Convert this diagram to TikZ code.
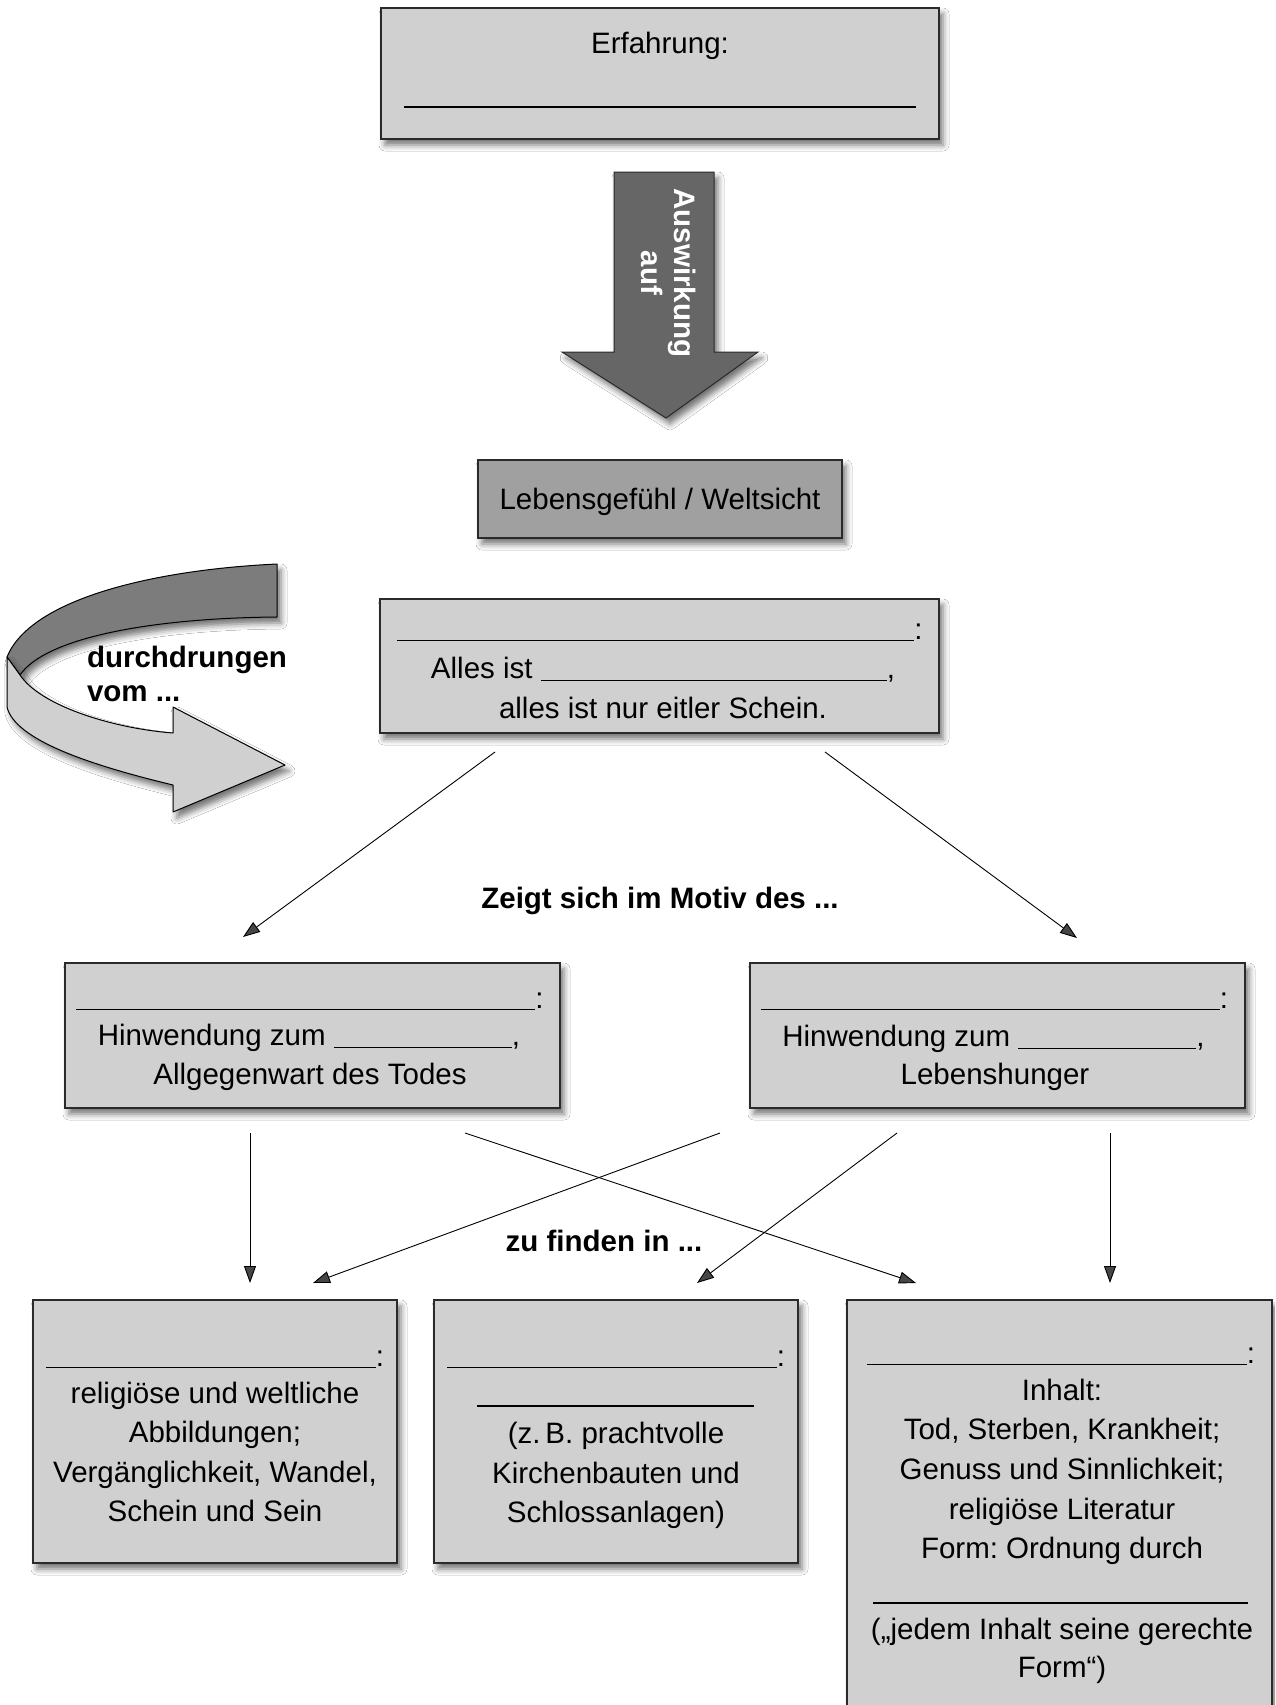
\documentclass[tikz,border=0pt]{standalone}
\usepackage{fontspec}
\setmainfont{Liberation Sans}
\usetikzlibrary{arrows.meta,shadows.blur}
\definecolor{boxgray}{HTML}{D0D0D0}
\definecolor{midgray}{HTML}{A0A0A0}
\definecolor{arrowgray}{HTML}{666666}
\definecolor{ribbondark}{HTML}{7C7C7C}
\definecolor{edgecol}{HTML}{2A2A2A}
\frenchspacing
\begin{document}
\frenchspacing
\begin{tikzpicture}[x=1pt,y=-1pt,
  every node/.style={font=\fontsize{29.5}{40}\selectfont, inner sep=0pt, outer sep=0pt},
  softshadow/.style={blur shadow={shadow xshift=4pt, shadow yshift=-6pt, shadow blur radius=6pt, shadow opacity=55}},
  boxstyle/.style={draw=edgecol, line width=1.3pt, fill=boxgray, softshadow},
  lab/.style={anchor=base},
  boldlab/.style={font=\fontsize{29.5}{34}\selectfont\bfseries},
  conn/.style={line width=0.9pt, -{Triangle[length=17pt,width=12pt]}},
  blank/.style={line width=1.3pt, draw=black}
]
\useasboundingbox (0,0) rectangle (1275,1705);
\fill[white] (0,0) rectangle (1275,1705);
\begin{scope}
\clip (0,0) rectangle (1275,1705);

% ---------- top box ----------
\node[boxstyle, minimum width=558pt, minimum height=131pt] (erf) at (660,73.5) {};
\node[lab] (erft) at (660,53) {Erfahrung:};
\draw[blank] (404,107) -- (916,107);

% ---------- big arrow ----------
\filldraw[fill=arrowgray, draw=edgecol, line width=1pt, softshadow]
  (614,172) -- (714,172) -- (714,352) -- (758,352) -- (666,418) -- (562,352) -- (614,352) -- cycle;
\node[font=\fontsize{29.5}{33}\selectfont\bfseries, text=white, rotate=-90, align=center] (ausw) at (669,273) {Auswirkung\\auf};

% ---------- Lebensgefuehl ----------
\node[boxstyle, fill=midgray, minimum width=364pt, minimum height=78pt] (leb) at (660,499) {};
\node[lab] (lebt) at (660,509) {Lebensgefühl / Weltsicht};

% ---------- curved ribbon arrow ----------
\filldraw[fill=ribbondark, draw=black, line width=1pt, softshadow, line join=round]
  (277,564) .. controls (150,570) and (30,600) .. (7,657)
  -- (20,675) .. controls (45,638) and (150,618) .. (277,617) -- cycle;
\filldraw[fill=boxgray, draw=black, line width=1pt, softshadow, line join=round]
  (7,657) -- (7,707) .. controls (15,740) and (90,765) .. (173,785)
  -- (173,812) -- (285,765) -- (173,707) -- (173,733)
  .. controls (110,728) and (40,705) .. (20,675) -- cycle;
\node[boldlab, anchor=base west] (dd1) at (87,667) {durchdrungen};
\node[boldlab, anchor=base west] (dd2) at (87,701) {vom ...};

% ---------- Vanitas box ----------
\node[boxstyle, minimum width=559pt, minimum height=134pt] (van) at (659.5,666) {};
\node[lab] (v1) at (660,639) {\rule[-2pt]{517pt}{1.3pt}:};
\node[lab] (v2) at (663,678) {Alles ist \rule[-3pt]{346pt}{1.3pt},};
\node[lab] (v3) at (663,718) {alles ist nur eitler Schein.};

% ---------- labels ----------
\node[boldlab, lab] (zeigt) at (660,908) {Zeigt sich im Motiv des ...};
\node[boldlab, lab] (zuf) at (604,1251) {zu finden in ...};

% ---------- middle boxes ----------
\node[boxstyle, minimum width=495pt, minimum height=145pt] (tod) at (312.5,1035.5) {};
\node[lab] (t1) at (310,1008) {\rule[-2pt]{459pt}{1.3pt}:};
\node[lab] (t2) at (309,1045) {Hinwendung zum \rule[-3pt]{178pt}{1.3pt},};
\node[lab] (t3) at (310,1084) {Allgegenwart des Todes};

\node[boxstyle, minimum width=495pt, minimum height=145pt] (leben) at (997.5,1035.5) {};
\node[lab] (l1) at (994.5,1008) {\rule[-2pt]{459pt}{1.3pt}:};
\node[lab] (l2) at (993.5,1046) {Hinwendung zum \rule[-3pt]{178pt}{1.3pt},};
\node[lab] (l3) at (995,1084) {Lebenshunger};

% ---------- bottom boxes ----------
\node[boxstyle, minimum width=364pt, minimum height=263pt] (kunst) at (215,1431.5) {};
\node[lab] (k1) at (215,1366) {\rule[-2pt]{330pt}{1.3pt}:};
\node[lab] (k2) at (215,1403) {religiöse und weltliche};
\node[lab] (k3) at (215,1442) {Abbildungen;};
\node[lab] (k4) at (215,1482) {Vergänglichkeit, Wandel,};
\node[lab] (k5) at (215,1521) {Schein und Sein};

\node[boxstyle, minimum width=364pt, minimum height=263pt] (arch) at (616,1431.5) {};
\node[lab] (a1) at (616,1366) {\rule[-2pt]{330pt}{1.3pt}:};
\draw[blank] (477,1406) -- (754,1406);
\node[lab] (a2) at (616,1443) {(z.\,B. prachtvolle};
\node[lab] (a3) at (616,1483) {Kirchenbauten und};
\node[lab] (a4) at (616,1522) {Schlossanlagen)};

\node[boxstyle, minimum width=425pt, minimum height=440pt] (lit) at (1059.5,1520) {};
\node[lab] (i1) at (1061,1363) {\rule[-2pt]{380pt}{1.3pt}:};
\node[lab] (i2) at (1062,1400) {Inhalt:};
\node[lab] (i3) at (1062,1439) {Tod, Sterben, Krankheit;};
\node[lab] (i4) at (1062,1479) {Genuss und Sinnlichkeit;};
\node[lab] (i5) at (1062,1519) {religiöse Literatur};
\node[lab] (i6) at (1062,1558) {Form: Ordnung durch};
\draw[blank] (873,1603) -- (1248,1603);
\node[lab] (i7) at (1062,1639) {(„jedem Inhalt seine gerechte};
\node[lab] (i8) at (1062,1677) {Form“)};

% ---------- connectors ----------
\coordinate (s1) at (495,752);  \coordinate (e1) at (243,937);
\coordinate (s2) at (825,752);  \coordinate (e2) at (1077,938);
\coordinate (s3) at (250,1133); \coordinate (e3) at (250,1283);
\coordinate (s4) at (465,1133); \coordinate (e4) at (916,1283);
\coordinate (s5) at (720,1133); \coordinate (e5) at (313,1283);
\coordinate (s6) at (897,1133); \coordinate (e6) at (697,1283);
\coordinate (s7) at (1110,1133);\coordinate (e7) at (1110,1283);
\draw[conn] (s1) -- (e1);
\draw[conn] (s2) -- (e2);
\draw[conn] (s3) -- (e3);
\draw[conn] (s4) -- (e4);
\draw[conn] (s5) -- (e5);
\draw[conn] (s6) -- (e6);
\draw[conn] (s7) -- (e7);
\end{scope}
\end{tikzpicture}
\end{document}
